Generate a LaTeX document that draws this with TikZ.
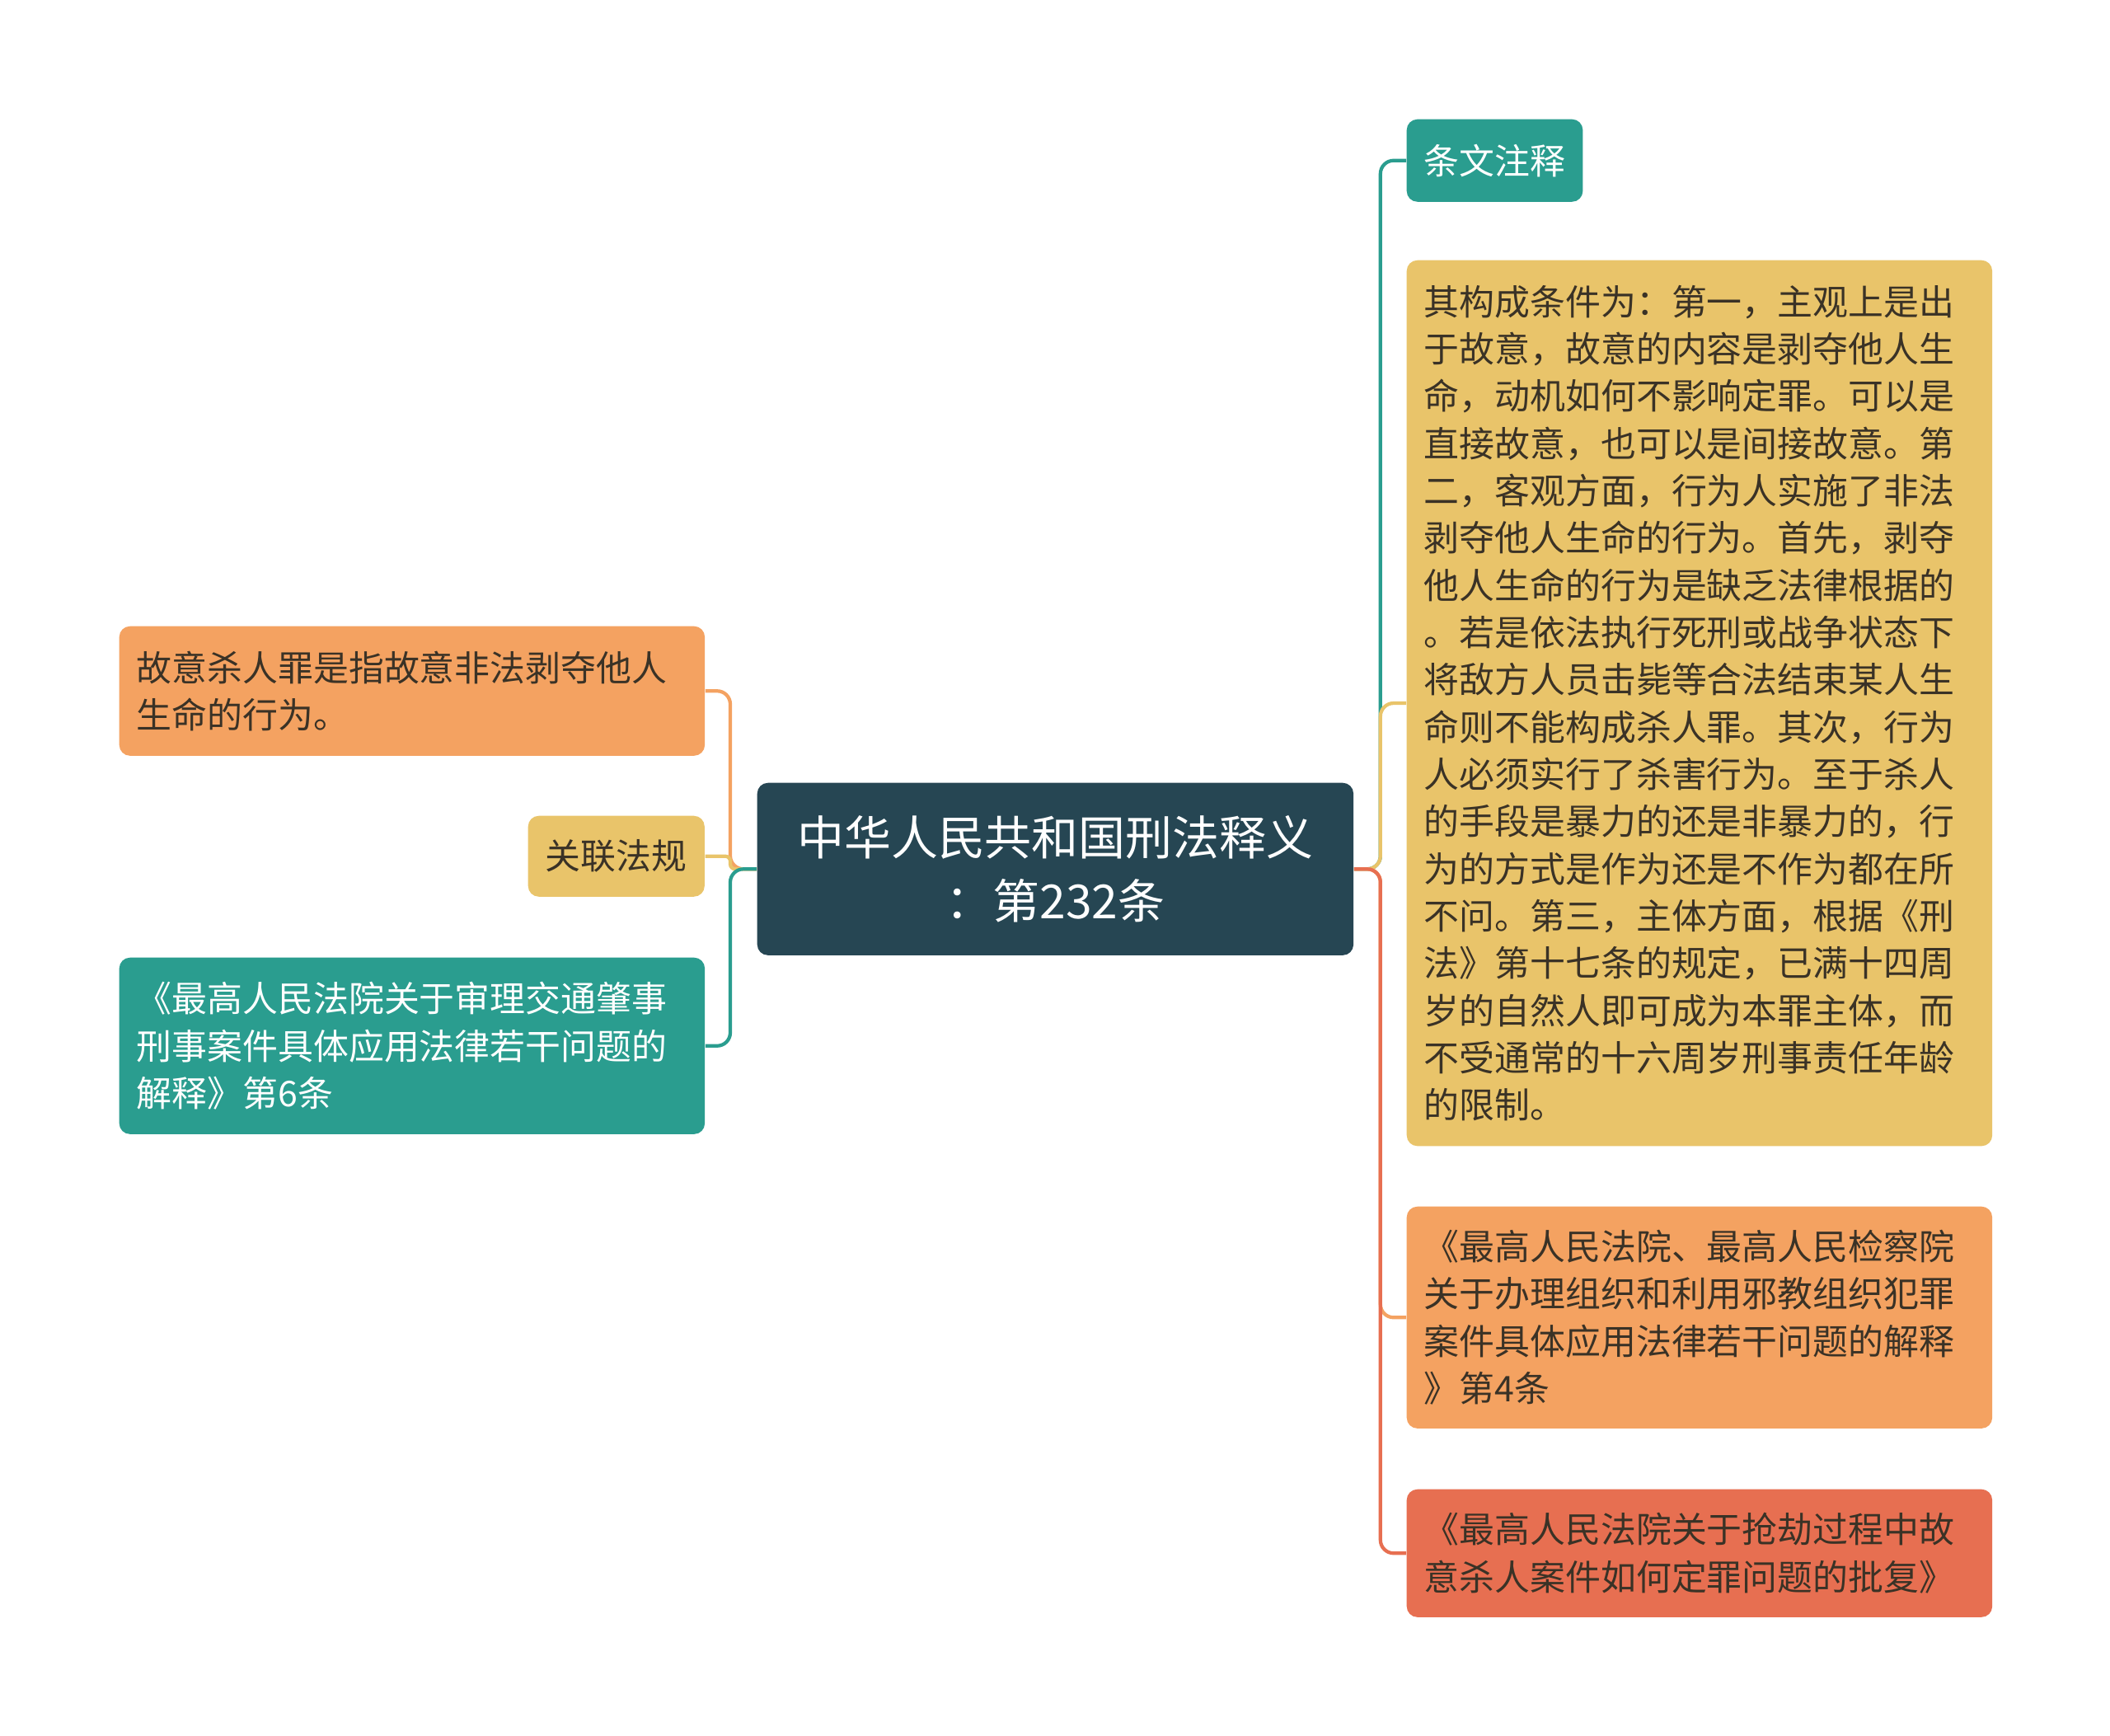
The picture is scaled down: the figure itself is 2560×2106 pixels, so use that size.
\documentclass[tikz,border=0pt]{standalone}
\usepackage{fontspec}
\newfontfamily\cjk{Noto Sans CJK SC}
\definecolor{rootbg}{HTML}{264653}
\definecolor{tealbg}{HTML}{2A9D8F}
\definecolor{yellowbg}{HTML}{E9C46A}
\definecolor{orangebg}{HTML}{F4A261}
\definecolor{redbg}{HTML}{E76F51}
\definecolor{inkdark}{HTML}{3A3226}
\begin{document}
\begin{tikzpicture}[x=0.01cm,y=-0.01cm]
	\tikzset{
		box/.style={rectangle, rounded corners=0.13cm, anchor=north west, inner xsep=0.21cm, inner ysep=0pt, text=inkdark, font=\cjk\fontsize{12.2pt}{16.3pt}\selectfont},
		para/.style={box, align=left, minimum width=7.10cm, text width=6.68cm},
		tag/.style={box, align=center},
		link/.style={line width=1.2pt, rounded corners=0.16cm}
	}
	\fill [white] (0,0) rectangle (2560,2106);
	\path [use as bounding box] (0,0) rectangle (2560,2106);
	\node [tag, fill=rootbg, text=white, minimum width=7.23cm, minimum height=2.09cm, font=\cjk\fontsize{16.2pt}{21.7pt}\selectfont] (root) at (918,949) {中华人民共和国刑法释义\\：第232条};
	\node [para, fill=orangebg, minimum height=1.57cm] (gist) at (144,759) {故意杀人罪是指故意非法剥夺他人\\生命的行为。};
	\node [tag, fill=yellowbg, minimum width=2.14cm, minimum height=0.98cm] (laws) at (640,989) {关联法规};
	\node [para, fill=tealbg, text=white, minimum height=2.14cm] (traffic) at (144,1161) {《最高人民法院关于审理交通肇事\\刑事案件具体应用法律若干问题的\\解释》第6条};
	\node [tag, fill=tealbg, text=white, minimum width=2.12cm, minimum height=1.00cm] (notes) at (1706,144) {条文注释};
	\node [para, fill=yellowbg, minimum height=10.74cm] (elements) at (1706,315) {其构成条件为：第一，主观上是出\\于故意，故意的内容是剥夺他人生\\命，动机如何不影响定罪。可以是\\直接故意，也可以是间接故意。第\\二，客观方面，行为人实施了非法\\剥夺他人生命的行为。首先，剥夺\\他人生命的行为是缺乏法律根据的\\。若是依法执行死刑或战争状态下\\将敌方人员击毙等合法结束某人生\\命则不能构成杀人罪。其次，行为\\人必须实行了杀害行为。至于杀人\\的手段是暴力的还是非暴力的，行\\为的方式是作为还是不作为都在所\\不问。第三，主体方面，根据《刑\\法》第十七条的规定，已满十四周\\岁的自然人即可成为本罪主体，而\\不受通常的十六周岁刑事责任年龄\\的限制。};
	\node [para, fill=orangebg, minimum height=2.69cm] (cult) at (1706,1463) {《最高人民法院、最高人民检察院\\关于办理组织和利用邪教组织犯罪\\案件具体应用法律若干问题的解释\\》第4条};
	\node [para, fill=redbg, minimum height=1.55cm] (robbery) at (1706,1806) {《最高人民法院关于抢劫过程中故\\意杀人案件如何定罪问题的批复》};
	\draw [link, orangebg] (root.west) -- ++(-32,0) |- (gist.east);
	\draw [link, yellowbg, rounded corners=0.06cm] (root.west) -- ++(-32,0) |- (laws.east);
	\draw [link, tealbg] (root.west) -- ++(-32,0) |- (traffic.east);
	\draw [link, tealbg] (root.east) -- ++(32,0) |- (notes.west);
	\draw [link, yellowbg] (root.east) -- ++(32,0) |- (elements.west);
	\draw [link, orangebg] (root.east) -- ++(32,0) |- (cult.west);
	\draw [link, redbg] (root.east) -- ++(32,0) |- (robbery.west);
\end{tikzpicture}
\end{document}
